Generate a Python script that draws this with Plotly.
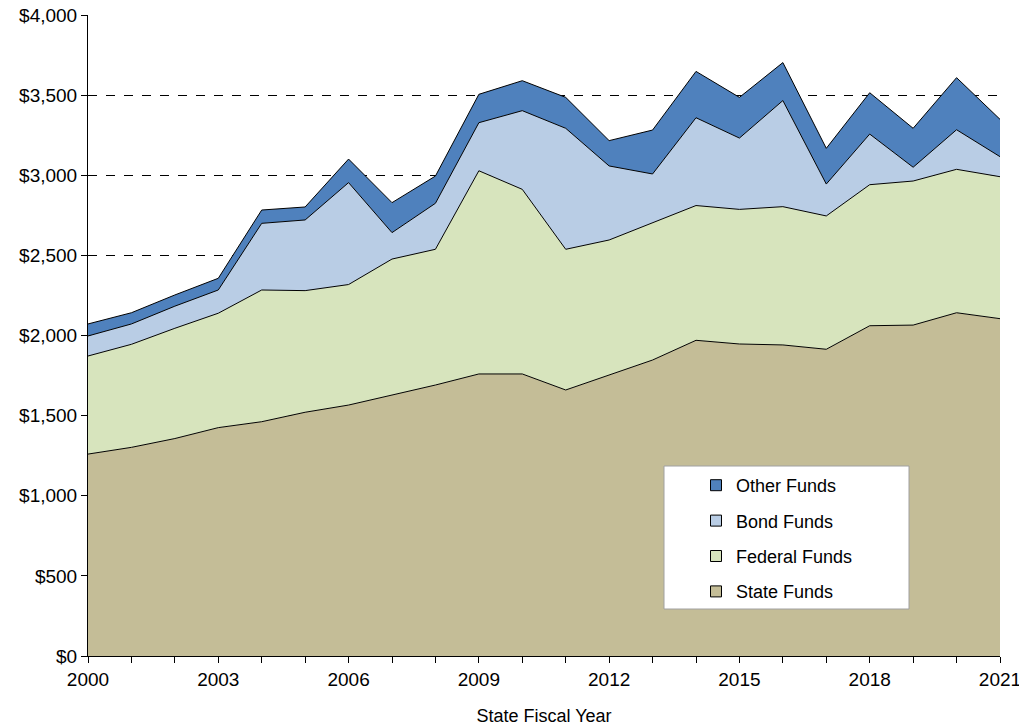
import plotly.graph_objects as go

years = list(range(2000, 2022))
label_years = [2000, 2003, 2006, 2009, 2012, 2015, 2018, 2021]
state_funds = [1260, 1302, 1357, 1425, 1462, 1521, 1566, 1629, 1691, 1760, 1760,
               1660, 1754, 1847, 1970, 1947, 1941, 1914, 2061, 2065, 2142, 2105]
federal_funds = [612, 643, 688, 714, 822, 759, 752, 848, 847, 1268, 1152,
                 878, 842, 857, 841, 840, 863, 832, 880, 899, 895, 886]
bond_funds = [125, 127, 138, 145, 416, 441, 636, 165, 287, 300, 491,
              755, 462, 304, 548, 445, 662, 199, 316, 86, 247, 125]
other_funds = [75, 70, 70, 73, 83, 81, 147, 187, 170, 177, 187,
               193, 158, 274, 289, 254, 237, 223, 258, 243, 325, 233]

series = [
    ("State Funds", state_funds, "#C4BD97"),
    ("Federal Funds", federal_funds, "#D7E4BD"),
    ("Bond Funds", bond_funds, "#B9CDE5"),
    ("Other Funds", other_funds, "#4F81BD"),
]

fig = go.Figure()
for name, vals, color in series:
    fig.add_trace(go.Scatter(
        x=years, y=vals, name=name, mode="lines", stackgroup="one",
        line=dict(color="black", width=1), fillcolor=color,
        showlegend=False,
    ))

# legend entries (square swatches), top-to-bottom: Other, Bond, Federal, State
for name, vals, color in reversed(series):
    fig.add_trace(go.Scatter(
        x=[None], y=[None], name=name, mode="markers",
        marker=dict(symbol="square", size=11, color=color,
                    line=dict(color="black", width=1)),
        legendgroup=name, showlegend=True,
    ))

font = dict(family="Liberation Sans, Arial, sans-serif", size=19, color="black")

fig.update_layout(
    width=1019, height=727,
    margin=dict(l=88, r=19, t=15, b=71),
    plot_bgcolor="white", paper_bgcolor="white",
    font=font,
    showlegend=True,
    legend=dict(
        x=(696 - 88) / 912, y=(656 - 467) / 641, xanchor="left", yanchor="top",
        traceorder="grouped", tracegroupgap=9, itemwidth=30,
        bgcolor="rgba(0,0,0,0)", borderwidth=0,
        font=dict(family="Liberation Sans, Arial, sans-serif", size=18, color="black"),
    ),
    xaxis=dict(
        range=[2000, 2021], tickmode="array", tickvals=label_years,
        ticktext=[str(y) for y in label_years], ticklabeloverflow="allow",
        ticks="outside", ticklen=6, tickcolor="black",
        minor=dict(tickvals=years, ticks="outside", ticklen=6, tickcolor="black"),
        showline=True, linecolor="black", linewidth=1,
        showgrid=False, zeroline=False, automargin=False,
        title=dict(text="State Fiscal Year", standoff=20,
                   font=dict(family="Liberation Sans, Arial, sans-serif", size=18)),
    ),
    yaxis=dict(
        range=[0, 4000], dtick=500, tickformat="$,",
        ticks="outside", ticklen=6, tickcolor="black", ticklabeloverflow="allow",
        showline=True, linecolor="black", linewidth=1,
        showgrid=True, gridcolor="black", gridwidth=1, griddash="dash",
        zeroline=False, automargin=False,
    ),
    shapes=[dict(
        type="rect", xref="paper", yref="paper",
        x0=(664 - 88) / 912, x1=(909 - 88) / 912,
        y0=(656 - 609) / 641, y1=(656 - 466) / 641,
        fillcolor="white", line=dict(color="#A0A0A0", width=1), layer="above",
    )],
)

fig.write_html("out.html", config={"displayModeBar": False},
               post_script="document.body.style.margin='0';document.body.style.overflow='hidden';")
